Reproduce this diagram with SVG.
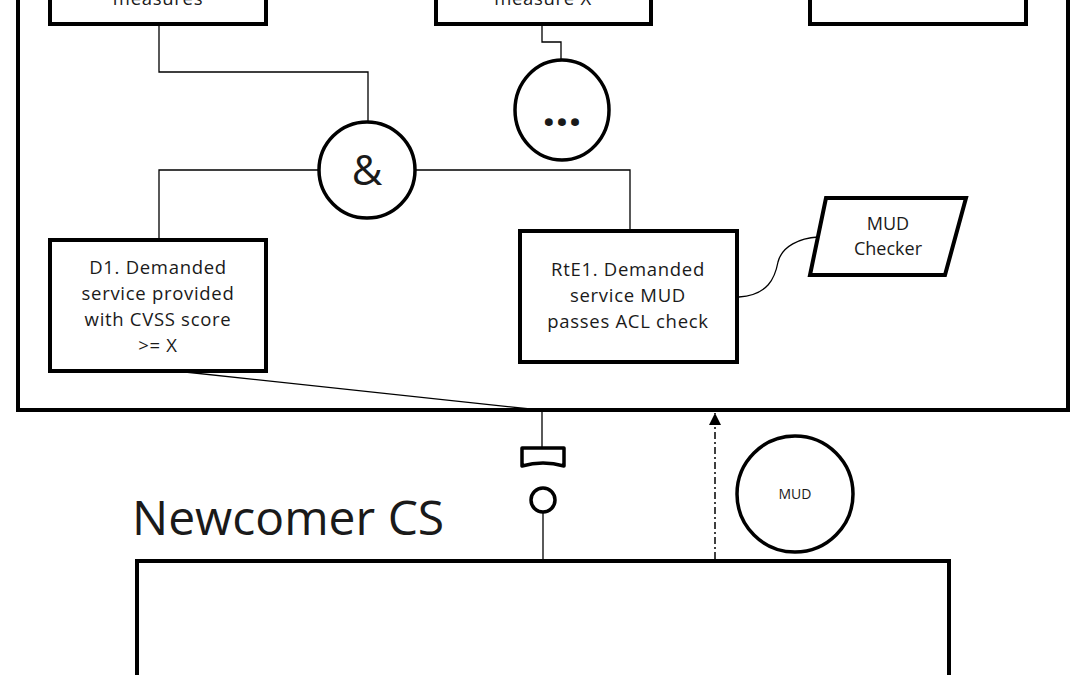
<svg xmlns="http://www.w3.org/2000/svg" width="1080" height="675" viewBox="0 0 1080 675">
<style>
.box{fill:#fff;stroke:#000;stroke-width:4}
.thin{fill:none;stroke:#000;stroke-width:1.3}
.circ{fill:#fff;stroke:#000;stroke-width:3.5}
text{font-family:"Open Sans","Noto Sans","Liberation Sans",sans-serif;fill:#1a1a1a;text-anchor:middle}
.t{font-size:18.5px;letter-spacing:0.7px}
</style>
<defs>
<marker id="arr" markerWidth="12" markerHeight="12" refX="10" refY="5" orient="auto" markerUnits="userSpaceOnUse" viewBox="0 0 10 10">
<path d="M0,0 L10,5 L0,10 Z" fill="#000"/>
</marker>
</defs>
<rect width="1080" height="675" fill="#fff"/>
<g id="system-boundary">
<rect x="18" y="-20" width="1050" height="430" fill="none" stroke="#000" stroke-width="4"/>
</g>
<g id="connectors">
<polyline class="thin" points="159,24 159,72 368,72 368,121"/>
<polyline class="thin" points="318,170 159,170 159,240"/>
<polyline class="thin" points="416,170 630,170 630,231"/>
<polyline class="thin" points="542,24 542,42 561,42 561,60"/>
<path class="thin" d="M739,297 C768,295 775,278 778,262 C782,246 800,238 818,237"/>
<line class="thin" x1="185" y1="372" x2="530" y2="409"/>
<line class="thin" x1="542" y1="410" x2="542" y2="447"/>
<line class="thin" x1="543" y1="512" x2="543" y2="561"/>
<line x1="715" y1="559" x2="715" y2="413" stroke="#000" stroke-width="1.5" stroke-dasharray="7 3 2 3" marker-end="url(#arr)"/>
</g>
<g id="node-measures">
<rect class="box" x="50" y="-60" width="216" height="84"/>
<text class="t" x="158" y="5">measures</text>
</g>
<g id="node-measure-x">
<rect class="box" x="436" y="-60" width="215" height="84"/>
<text class="t" x="543" y="5">measure X</text>
</g>
<g id="node-top-right">
<rect class="box" x="810" y="-60" width="216" height="84"/>
</g>
<g id="node-and">
<circle class="circ" cx="367" cy="170" r="48"/>
<text x="367" y="185" style="font-size:42px">&amp;</text>
</g>
<g id="node-ellipsis">
<ellipse class="circ" cx="562" cy="110" rx="47" ry="50"/>
<text x="562" y="126" style="font-size:46px;font-weight:bold">…</text>
</g>
<g id="node-d1">
<rect class="box" x="50" y="240" width="216" height="131"/>
<text class="t" x="158" y="274">D1. Demanded</text>
<text class="t" x="158" y="300">service provided</text>
<text class="t" x="158" y="326">with CVSS score</text>
<text class="t" x="158" y="352">&gt;= X</text>
</g>
<g id="node-rte1">
<rect class="box" x="520" y="231" width="217" height="131"/>
<text class="t" x="628" y="276">RtE1. Demanded</text>
<text class="t" x="628" y="302">service MUD</text>
<text class="t" x="628" y="328">passes ACL check</text>
</g>
<g id="node-mud-checker">
<polygon class="box" points="826,198 966,198 945,275 810,275"/>
<text x="888" y="230" style="font-size:18px">MUD</text>
<text x="888" y="255" style="font-size:18px">Checker</text>
</g>
<g id="node-socket">
<path d="M522,448 L564,448 L564,466 Q543,460 522,466 Z" fill="#fff" stroke="#000" stroke-width="3.5" stroke-linejoin="round"/>
</g>
<g id="node-ball">
<circle class="circ" cx="543" cy="500" r="12"/>
</g>
<g id="node-mud">
<circle class="circ" cx="795" cy="494" r="58"/>
<text x="795" y="499" style="font-size:14px">MUD</text>
</g>
<g id="node-newcomer">
<text x="132" y="535" style="font-size:48px;text-anchor:start">Newcomer CS</text>
<rect class="box" x="137" y="561" width="812" height="140"/>
</g>
</svg>
